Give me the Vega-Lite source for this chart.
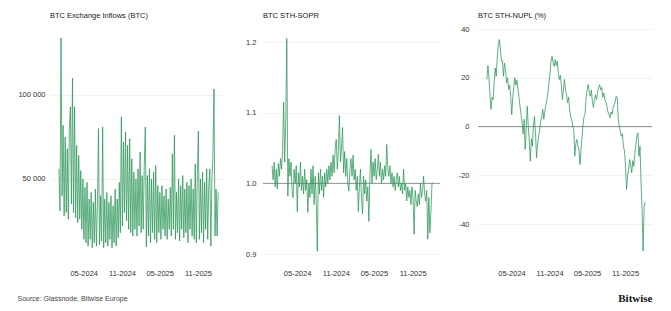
{
"$schema": "https://vega.github.io/schema/vega-lite/v6.json",
"padding": {"left": 17, "top": 11, "right": 19, "bottom": 4},
"spacing": 38,
"bounds": "flush",
"datasets": {"d": [
{"t":"2024-01-03","a":56000,"b":1.025,"c":19.3},
{"t":"2024-01-08","a":31000,"b":1.005,"c":25},
{"t":"2024-01-13","a":134000,"b":1.03,"c":20},
{"t":"2024-01-18","a":40000,"b":0.995,"c":13},
{"t":"2024-01-23","a":82000,"b":1.02,"c":7},
{"t":"2024-01-28","a":28000,"b":0.992,"c":12},
{"t":"2024-02-02","a":75000,"b":1.028,"c":11},
{"t":"2024-02-07","a":30000,"b":1.01,"c":18},
{"t":"2024-02-12","a":68000,"b":1.035,"c":24},
{"t":"2024-02-17","a":26000,"b":1.02,"c":20.6},
{"t":"2024-02-22","a":80000,"b":1.045,"c":28},
{"t":"2024-02-27","a":93000,"b":1.115,"c":33},
{"t":"2024-03-03","a":35000,"b":1.03,"c":35.7},
{"t":"2024-03-08","a":110000,"b":1.086,"c":32},
{"t":"2024-03-13","a":30000,"b":1.205,"c":26.8},
{"t":"2024-03-18","a":93000,"b":0.982,"c":27},
{"t":"2024-03-23","a":27000,"b":1.035,"c":20.6},
{"t":"2024-03-28","a":70000,"b":1.01,"c":26},
{"t":"2024-04-02","a":24000,"b":1.03,"c":23.4},
{"t":"2024-04-07","a":64000,"b":0.99,"c":18},
{"t":"2024-04-12","a":26000,"b":0.98,"c":20},
{"t":"2024-04-17","a":55000,"b":1.02,"c":15.2},
{"t":"2024-04-22","a":20000,"b":1.0,"c":17},
{"t":"2024-04-27","a":50000,"b":1.025,"c":12.4},
{"t":"2024-05-02","a":14000,"b":0.96,"c":4.9},
{"t":"2024-05-07","a":45000,"b":1.015,"c":12},
{"t":"2024-05-12","a":12000,"b":0.995,"c":16},
{"t":"2024-05-17","a":48000,"b":1.03,"c":20},
{"t":"2024-05-22","a":10000,"b":0.99,"c":17},
{"t":"2024-05-27","a":38000,"b":1.01,"c":19},
{"t":"2024-06-01","a":14000,"b":0.985,"c":15.2},
{"t":"2024-06-06","a":42000,"b":1.02,"c":12},
{"t":"2024-06-11","a":9000,"b":0.99,"c":8.3},
{"t":"2024-06-16","a":36000,"b":1.005,"c":5},
{"t":"2024-06-21","a":12000,"b":0.959,"c":1.6},
{"t":"2024-06-26","a":44000,"b":1.0,"c":-3},
{"t":"2024-07-01","a":10000,"b":0.98,"c":3},
{"t":"2024-07-06","a":34000,"b":1.02,"c":-9.4},
{"t":"2024-07-11","a":80000,"b":0.985,"c":-1},
{"t":"2024-07-16","a":11000,"b":1.025,"c":8.3},
{"t":"2024-07-21","a":40000,"b":0.97,"c":0},
{"t":"2024-07-26","a":13000,"b":1.01,"c":-6},
{"t":"2024-07-31","a":81000,"b":0.975,"c":-14.2},
{"t":"2024-08-05","a":9000,"b":0.904,"c":-5},
{"t":"2024-08-10","a":38000,"b":1.015,"c":-8},
{"t":"2024-08-15","a":12000,"b":0.985,"c":0.1},
{"t":"2024-08-20","a":42000,"b":1.02,"c":4.2},
{"t":"2024-08-25","a":10000,"b":0.99,"c":-3},
{"t":"2024-08-30","a":36000,"b":1.01,"c":-12.8},
{"t":"2024-09-04","a":14000,"b":0.98,"c":-7},
{"t":"2024-09-09","a":40000,"b":1.015,"c":-4},
{"t":"2024-09-14","a":9000,"b":0.995,"c":-1.2},
{"t":"2024-09-19","a":34000,"b":1.02,"c":2},
{"t":"2024-09-24","a":12000,"b":1.0,"c":4},
{"t":"2024-09-29","a":44000,"b":1.025,"c":7},
{"t":"2024-10-04","a":10000,"b":1.005,"c":3},
{"t":"2024-10-09","a":38000,"b":1.03,"c":6},
{"t":"2024-10-14","a":15000,"b":1.01,"c":9},
{"t":"2024-10-19","a":48000,"b":1.04,"c":11},
{"t":"2024-10-24","a":18000,"b":1.015,"c":13.8},
{"t":"2024-10-29","a":87000,"b":1.05,"c":18},
{"t":"2024-11-03","a":22000,"b":1.062,"c":22},
{"t":"2024-11-08","a":72000,"b":1.02,"c":26.8},
{"t":"2024-11-13","a":30000,"b":1.045,"c":28.8},
{"t":"2024-11-18","a":78000,"b":1.096,"c":26},
{"t":"2024-11-23","a":25000,"b":1.03,"c":24.7},
{"t":"2024-11-28","a":70000,"b":1.05,"c":27.5},
{"t":"2024-12-03","a":20000,"b":1.079,"c":25},
{"t":"2024-12-08","a":74000,"b":1.015,"c":26.8},
{"t":"2024-12-13","a":18000,"b":1.045,"c":22},
{"t":"2024-12-18","a":62000,"b":1.01,"c":19.3},
{"t":"2024-12-23","a":16000,"b":1.035,"c":21},
{"t":"2024-12-28","a":54000,"b":1.0,"c":17},
{"t":"2025-01-02","a":20000,"b":0.989,"c":11},
{"t":"2025-01-07","a":50000,"b":1.02,"c":15},
{"t":"2025-01-12","a":16000,"b":1.035,"c":19.3},
{"t":"2025-01-17","a":56000,"b":1.01,"c":15},
{"t":"2025-01-22","a":22000,"b":1.04,"c":13},
{"t":"2025-01-27","a":66000,"b":1.005,"c":9.8},
{"t":"2025-02-01","a":18000,"b":1.02,"c":12},
{"t":"2025-02-06","a":52000,"b":0.99,"c":7},
{"t":"2025-02-11","a":20000,"b":1.01,"c":4},
{"t":"2025-02-16","a":58000,"b":0.96,"c":2.9},
{"t":"2025-02-21","a":81000,"b":0.995,"c":0},
{"t":"2025-02-26","a":9500,"b":1.02,"c":-1.2},
{"t":"2025-03-03","a":52000,"b":0.98,"c":-12.2},
{"t":"2025-03-08","a":16000,"b":0.957,"c":-7},
{"t":"2025-03-13","a":56000,"b":1.01,"c":-5.3},
{"t":"2025-03-18","a":12000,"b":0.985,"c":-8},
{"t":"2025-03-23","a":50000,"b":1.005,"c":-9.4},
{"t":"2025-03-28","a":18000,"b":0.975,"c":-15.6},
{"t":"2025-04-02","a":54000,"b":0.995,"c":-9},
{"t":"2025-04-07","a":14000,"b":0.946,"c":-4},
{"t":"2025-04-12","a":58000,"b":1.01,"c":1},
{"t":"2025-04-17","a":12000,"b":1.048,"c":4.2},
{"t":"2025-04-22","a":46000,"b":1.0,"c":5.7},
{"t":"2025-04-27","a":18000,"b":1.03,"c":12.4},
{"t":"2025-05-02","a":42000,"b":1.01,"c":15.2},
{"t":"2025-05-07","a":14000,"b":1.035,"c":17.2},
{"t":"2025-05-12","a":46000,"b":1.005,"c":14},
{"t":"2025-05-17","a":20000,"b":1.02,"c":12.4},
{"t":"2025-05-22","a":40000,"b":1.041,"c":15},
{"t":"2025-05-27","a":16000,"b":1.01,"c":10},
{"t":"2025-06-01","a":44000,"b":1.03,"c":7.8},
{"t":"2025-06-06","a":14000,"b":1.0,"c":11},
{"t":"2025-06-11","a":38000,"b":1.02,"c":13},
{"t":"2025-06-16","a":20000,"b":1.005,"c":11},
{"t":"2025-06-21","a":45000,"b":1.025,"c":14},
{"t":"2025-06-26","a":16000,"b":1.01,"c":16},
{"t":"2025-07-01","a":65000,"b":1.055,"c":17.2},
{"t":"2025-07-06","a":20000,"b":1.02,"c":15},
{"t":"2025-07-11","a":76000,"b":1.01,"c":16},
{"t":"2025-07-16","a":14000,"b":1.025,"c":12},
{"t":"2025-07-21","a":42000,"b":1.0,"c":13.8},
{"t":"2025-07-26","a":18000,"b":1.015,"c":11},
{"t":"2025-07-31","a":50000,"b":0.995,"c":10},
{"t":"2025-08-05","a":13000,"b":1.01,"c":8.3},
{"t":"2025-08-10","a":46000,"b":0.99,"c":6},
{"t":"2025-08-15","a":20000,"b":1.005,"c":5},
{"t":"2025-08-20","a":52000,"b":1.015,"c":3.6},
{"t":"2025-08-25","a":15000,"b":0.995,"c":6},
{"t":"2025-08-30","a":44000,"b":1.01,"c":5},
{"t":"2025-09-04","a":18000,"b":0.99,"c":7.7},
{"t":"2025-09-09","a":48000,"b":1.0,"c":9},
{"t":"2025-09-14","a":12000,"b":0.985,"c":10},
{"t":"2025-09-19","a":46000,"b":1.02,"c":12.4},
{"t":"2025-09-24","a":20000,"b":0.99,"c":11.8},
{"t":"2025-09-29","a":50000,"b":1.0,"c":2.9},
{"t":"2025-10-04","a":16000,"b":0.975,"c":0.1},
{"t":"2025-10-09","a":44000,"b":0.995,"c":-2},
{"t":"2025-10-14","a":14000,"b":0.98,"c":-4},
{"t":"2025-10-19","a":59000,"b":0.99,"c":-3},
{"t":"2025-10-24","a":12000,"b":0.97,"c":-8.1},
{"t":"2025-10-29","a":52000,"b":0.995,"c":-10},
{"t":"2025-11-03","a":78500,"b":0.98,"c":-16.3},
{"t":"2025-11-08","a":14000,"b":0.928,"c":-25.8},
{"t":"2025-11-13","a":50000,"b":0.99,"c":-20},
{"t":"2025-11-18","a":18000,"b":0.975,"c":-17.6},
{"t":"2025-11-23","a":54000,"b":0.967,"c":-13.5},
{"t":"2025-11-28","a":12000,"b":0.985,"c":-16},
{"t":"2025-12-03","a":48000,"b":0.97,"c":-18.9},
{"t":"2025-12-08","a":20000,"b":1.0,"c":-14},
{"t":"2025-12-13","a":56000,"b":0.98,"c":-16.3},
{"t":"2025-12-18","a":14000,"b":0.99,"c":-11},
{"t":"2025-12-23","a":46000,"b":1.01,"c":-7.4},
{"t":"2025-12-28","a":56000,"b":0.985,"c":-4},
{"t":"2026-01-02","a":10000,"b":0.975,"c":-2.6},
{"t":"2026-01-07","a":50000,"b":0.99,"c":-12.2},
{"t":"2026-01-12","a":63000,"b":0.921,"c":-8.1},
{"t":"2026-01-17","a":103500,"b":0.98,"c":-23},
{"t":"2026-01-22","a":16000,"b":0.93,"c":-34},
{"t":"2026-01-27","a":44000,"b":0.96,"c":-51},
{"t":"2026-02-01","a":16000,"b":1.0,"c":-32.7},
{"t":"2026-02-06","a":42000,"b":1.0,"c":-31}
]},
"config": {
  "view": {"stroke": null},
  "font": "Liberation Sans",
  "axis": {"domain": false, "ticks": false, "tickSize": 0, "labelFont": "Liberation Sans", "labelFontSize": 7.5, "labelColor": "#333333", "titleFont": "Liberation Sans"},
  "axisX": {"grid": false, "labelPadding": 12},
  "axisY": {"grid": true, "gridColor": "#efefef", "gridWidth": 0.8},
  "title": {"anchor": "start", "frame": "group", "fontSize": 7.5, "fontWeight": "normal", "color": "#1a1a1a", "offset": 10, "font": "Liberation Sans"},
  "line": {"color": "#2a9657", "strokeWidth": 0.75}
},
"hconcat": [
{
  "width": 175, "height": 228,
  "title": {"text": "BTC Exchange Inflows (BTC)"},
  "data": {"name": "d"},
  "mark": {"type": "line"},
  "encoding": {
    "x": {"field": "t", "type": "temporal",
      "scale": {"type": "utc", "domain": [{"utc": true, "year": 2023, "month": 11, "date": 21}, {"utc": true, "year": 2026, "month": 3, "date": 11}]},
      "axis": {"values": [{"utc": true, "year": 2024, "month": 5, "date": 1}, {"utc": true, "year": 2024, "month": 11, "date": 1}, {"utc": true, "year": 2025, "month": 5, "date": 1}, {"utc": true, "year": 2025, "month": 11, "date": 1}],
        "labelExpr": "utcFormat(datum.value, '%m-%Y')",
        "title": "Source: Glassnode, Bitwise Europe", "titleAnchor": "start", "titleAlign": "left", "titleX": -33, "titleFontSize": 7, "titleFontWeight": "normal", "titleColor": "#444444", "titlePadding": 18}},
    "y": {"field": "a", "type": "quantitative",
      "scale": {"domain": [3500, 139300], "nice": false, "zero": false},
      "axis": {"values": [50000, 100000], "labelExpr": "replace(format(datum.value, ',d'), ',', ' ')", "title": null, "labelPadding": 5}}
  }
},
{
  "width": 177, "height": 228,
  "title": {"text": "BTC STH-SOPR"},
  "layer": [
    {"data": {"values": [{}]}, "mark": {"type": "rule", "color": "#777777", "strokeWidth": 0.8}, "encoding": {"y": {"datum": 1}}},
    {"data": {"name": "d"}, "mark": {"type": "line"},
     "encoding": {
      "x": {"field": "t", "type": "temporal",
        "scale": {"type": "utc", "domain": [{"utc": true, "year": 2023, "month": 11, "date": 21}, {"utc": true, "year": 2026, "month": 3, "date": 11}]},
        "axis": {"values": [{"utc": true, "year": 2024, "month": 5, "date": 1}, {"utc": true, "year": 2024, "month": 11, "date": 1}, {"utc": true, "year": 2025, "month": 5, "date": 1}, {"utc": true, "year": 2025, "month": 11, "date": 1}],
          "labelExpr": "utcFormat(datum.value, '%m-%Y')", "title": null}},
      "y": {"field": "b", "type": "quantitative",
        "scale": {"domain": [0.8958, 1.2184], "nice": false, "zero": false},
        "axis": {"values": [0.9, 1.0, 1.1, 1.2], "labelExpr": "format(datum.value, '.1f')", "title": null, "labelPadding": 7}}
     }}
  ]
},
{
  "width": 174, "height": 228,
  "title": {"text": "BTC STH-NUPL (%)", "offset": 6},
  "layer": [
    {"data": {"values": [{}]}, "mark": {"type": "rule", "color": "#777777", "strokeWidth": 0.8}, "encoding": {"y": {"datum": 0}}},
    {"data": {"name": "d"}, "mark": {"type": "line"},
     "encoding": {
      "x": {"field": "t", "type": "temporal",
        "scale": {"type": "utc", "domain": [{"utc": true, "year": 2023, "month": 11, "date": 21}, {"utc": true, "year": 2026, "month": 3, "date": 11}]},
        "axis": {"values": [{"utc": true, "year": 2024, "month": 5, "date": 1}, {"utc": true, "year": 2024, "month": 11, "date": 1}, {"utc": true, "year": 2025, "month": 5, "date": 1}, {"utc": true, "year": 2025, "month": 11, "date": 1}],
          "labelExpr": "utcFormat(datum.value, '%m-%Y')",
          "title": "Bitwise", "titleAnchor": "end", "titleAlign": "right", "titleFont": "Liberation Serif", "titleFontSize": 11, "titleFontWeight": "bold", "titleColor": "#111111", "titlePadding": 16}},
      "y": {"field": "c", "type": "quantitative",
        "scale": {"domain": [-53.5, 40], "nice": false, "zero": false},
        "axis": {"values": [-40, -20, 0, 20, 40], "labelExpr": "toString(datum.value)", "title": null, "labelPadding": 9}}
     }}
  ]
}
]
}
